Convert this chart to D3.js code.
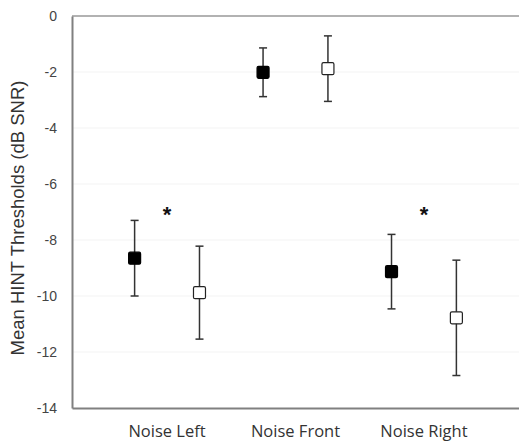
<!DOCTYPE html>
<html>
<head>
<meta charset="utf-8">
<script src="https://cdn.jsdelivr.net/npm/d3@7"></script>
<style>
  body { margin: 0; background: #fff; }
  svg { display: block; }
</style>
</head>
<body>
<svg id="chart" width="519" height="443"></svg>
<script>
// conditions along the x axis
const categories = ["Noise Left", "Noise Front", "Noise Right"];
// the two series (filled and open squares)
const series = ["filled", "open"];
const filledMeans = [-8.65, -2.01, -9.13];
const filledSD = [1.35, 0.87, 1.33];
const openMeans = [-9.88, -1.88, -10.78];
const openSD = [1.66, 1.17, 2.06];
// conditions with a significant difference
const starred = ["Noise Left", "Noise Right"];
const starLevel = -7.0;
const yTicks = [0, -2, -4, -6, -8, -10, -12, -14];

const width = 519, height = 443;
const margin = { top: 16, right: 0, bottom: 35, left: 72 };

const svg = d3.select("#chart");

const x = d3.scaleBand()
    .domain(categories)
    .range([margin.left, width - margin.right])
    .paddingInner(0)
    .paddingOuter(0.24);

const xInner = d3.scalePoint()
    .domain(series)
    .range([0, x.bandwidth()])
    .padding(0.49);

const y = d3.scaleLinear()
    .domain([-14, 0])
    .range([height - margin.bottom, margin.top]);

// faint gridlines
svg.append("g")
    .selectAll("line")
    .data(yTicks.filter(d => d !== 0 && d !== -14))
    .join("line")
    .attr("x1", margin.left)
    .attr("x2", width - margin.right)
    .attr("y1", d => y(d))
    .attr("y2", d => y(d))
    .attr("stroke", "#f3f3f3")
    .attr("stroke-width", 1);

// top border
svg.append("line")
    .attr("x1", margin.left)
    .attr("x2", width - margin.right)
    .attr("y1", y(0))
    .attr("y2", y(0))
    .attr("stroke", "#999")
    .attr("stroke-width", 1.5);

// y axis
const yAxis = svg.append("g")
    .attr("transform", `translate(${margin.left},0)`)
    .call(d3.axisLeft(y).tickValues(yTicks).tickSize(0).tickPadding(15).tickFormat(d => String(d)));
yAxis.select(".domain").attr("stroke", "#808080").attr("stroke-width", 2);
yAxis.selectAll("text")
    .attr("font-family", "Liberation Sans, Arial, sans-serif")
    .attr("font-size", 14)
    .attr("fill", "#444");

// x axis
const xAxis = svg.append("g")
    .attr("transform", `translate(0,${y(-14)})`)
    .call(d3.axisBottom(x).tickSize(0).tickPadding(17));
xAxis.select(".domain").attr("stroke", "#808080").attr("stroke-width", 2);
xAxis.selectAll("text")
    .attr("font-family", "Open Sans, sans-serif")
    .attr("font-size", 16.5)
    .attr("fill", "#333");

// y axis title
svg.append("text")
    .attr("transform", `translate(24,${(y(0) + y(-14)) / 2 + 6}) rotate(-90)`)
    .attr("text-anchor", "middle")
    .attr("font-family", "Liberation Sans, Arial, sans-serif")
    .attr("font-size", 18.5)
    .attr("fill", "#333")
    .text("Mean HINT Thresholds (dB SNR)");

const points = [];
categories.forEach((c, i) => {
    points.push({ cat: c, s: "filled", mean: filledMeans[i], sd: filledSD[i] });
    points.push({ cat: c, s: "open", mean: openMeans[i], sd: openSD[i] });
});

const px = d => x(d.cat) + xInner(d.s);
const capW = 4;

const g = svg.append("g");
g.selectAll(".whisker")
    .data(points)
    .join("line")
    .attr("x1", px)
    .attr("x2", px)
    .attr("y1", d => y(d.mean + d.sd))
    .attr("y2", d => y(d.mean - d.sd))
    .attr("stroke", "#333")
    .attr("stroke-width", 1.5);

g.selectAll(".capTop")
    .data(points)
    .join("line")
    .attr("x1", d => px(d) - capW)
    .attr("x2", d => px(d) + capW)
    .attr("y1", d => y(d.mean + d.sd))
    .attr("y2", d => y(d.mean + d.sd))
    .attr("stroke", "#333")
    .attr("stroke-width", 1.5);

g.selectAll(".capBottom")
    .data(points)
    .join("line")
    .attr("x1", d => px(d) - capW)
    .attr("x2", d => px(d) + capW)
    .attr("y1", d => y(d.mean - d.sd))
    .attr("y2", d => y(d.mean - d.sd))
    .attr("stroke", "#333")
    .attr("stroke-width", 1.5);

const sq = 12;
g.selectAll(".marker")
    .data(points)
    .join("rect")
    .attr("x", d => px(d) - sq / 2)
    .attr("y", d => y(d.mean) - sq / 2)
    .attr("width", sq)
    .attr("height", sq)
    .attr("rx", 1.5)
    .attr("fill", d => d.s === "filled" ? "#000" : "#fff")
    .attr("stroke", d => d.s === "filled" ? "#000" : "#222")
    .attr("stroke-width", 1.2);

// significance asterisks
svg.append("g")
    .selectAll("text")
    .data(starred)
    .join("text")
    .attr("x", d => x(d) + x.bandwidth() / 2)
    .attr("y", y(starLevel) + 10)
    .attr("text-anchor", "middle")
    .attr("font-family", "Liberation Sans, Arial, sans-serif")
    .attr("font-weight", "bold")
    .attr("font-size", 22)
    .attr("fill", "#111")
    .text("*");
</script>
</body>
</html>
